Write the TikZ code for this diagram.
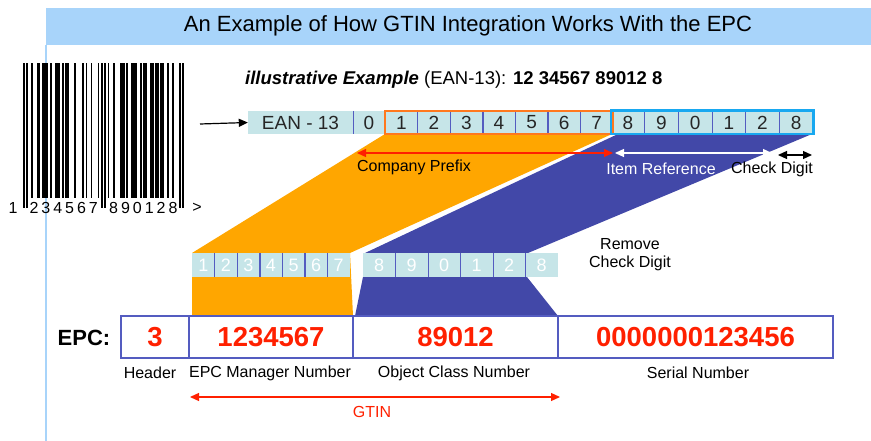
\documentclass[tikz,border=0pt]{standalone}
\usepackage{fontspec}
\setmainfont{Liberation Sans}
\usetikzlibrary{arrows.meta, positioning}

\definecolor{bandblue}{RGB}{168,212,250}
\definecolor{cellteal}{RGB}{198,229,232}
\definecolor{divblue}{RGB}{84,92,192}
\definecolor{prefixorange}{RGB}{255,166,0}
\definecolor{lineorange}{RGB}{255,120,30}
\definecolor{linecyan}{RGB}{24,168,240}
\definecolor{refblue}{RGB}{66,72,168}
\definecolor{epcred}{RGB}{255,32,0}

\tikzset{
  cell/.style={fill=cellteal, inner sep=0pt, minimum height=23pt,
    font=\fontsize{19}{21}\selectfont, text=black!85},
  midcell/.style={cell, minimum height=24pt, text=white,
    font=\fontsize{18}{20}\selectfont},
  divider/.style={draw=divblue, line width=1.2pt},
  epcbox/.style={draw=divblue, fill=white, line width=1.2pt, inner sep=0pt,
    minimum height=42pt, text=epcred, font=\bfseries\fontsize{27.5}{30}\selectfont},
  lbl/.style={font=\fontsize{16}{18}\selectfont, inner sep=0pt},
  bcdigit/.style={font=\fontsize{16}{18}\selectfont, inner sep=0pt},
  dimarrow/.style={{Triangle[length=9pt,width=8pt]}-{Triangle[length=9pt,width=8pt]},
    line width=1.2pt},
}

\begin{document}
\begin{tikzpicture}[x=1pt, y=-1pt]
  \useasboundingbox (0,0) rectangle (871,441);

  % Title band
  \fill[bandblue] (46,8) rectangle (871,45);
  \draw[bandblue, line width=1.5pt] (46,45) -- (46,441);
  \node[font=\fontsize{22}{24}\selectfont] (title) at (468,26)
    {An Example of How GTIN Integration Works With the EPC};

  % Barcode (EAN-13, 95 modules)
  \foreach \b [count=\i] in {1,0,1,
      0,0,1,0,0,1,1, 0,1,1,1,1,0,1, 0,0,1,1,1,0,1,
      0,1,1,0,0,0,1, 0,0,0,0,1,0,1, 0,0,1,0,0,0,1,
      0,1,0,1,0,
      1,0,0,1,0,0,0, 1,1,1,0,1,0,0, 1,1,1,0,0,1,0,
      1,1,0,0,1,1,0, 1,1,0,1,1,0,0, 1,0,0,1,0,0,0,
      1,0,1}
  {\ifnum\b=1
     \pgfmathsetmacro{\barbot}{((\i<4) || ((\i>45) && (\i<51)) || (\i>92)) ? 208 : 198}
     \fill ({23+(\i-1)*1.695},63) rectangle ({23+\i*1.695},\barbot);
   \fi}
  \node[bcdigit] (bcfirst) at (13,208) {1};
  \foreach \d [count=\k from 0] in {2,3,4,5,6,7}
    \node[bcdigit] (bcl\k) at ({23+(6.5+7*\k)*1.695},208) {\d};
  \foreach \d [count=\k from 0] in {8,9,0,1,2,8}
    \node[bcdigit] (bcr\k) at ({23+(53.5+7*\k)*1.695},208) {\d};
  \node[bcdigit] (bcmark) at (197,208) {>};

  % Example line
  \node[anchor=west, inner sep=0pt, font=\fontsize{18.5}{20}\selectfont] (example) at (245,80)
    {\textbf{\textit{illustrative Example}} (EAN-13): \textbf{12 34567 89012 8}};

  % Bands from EAN-13 to EPC
  \fill[prefixorange] (385,134) -- (612,134) -- (350,253) -- (353,316)
    -- (192,316) -- (192,253) -- cycle;
  \fill[refblue] (618,134) -- (812,134) -- (528,253) -- (527,277) -- (558,316)
    -- (355,316) -- (363,277) -- (365,253) -- cycle;

  % EAN-13 row
  \node[cell, minimum width=105pt] (ean) at (300.5,122.5) {EAN - 13};
  \node[cell, minimum width=32pt] (zero) at (369,122.5) {0};
  \foreach \d [count=\i] in {1,...,7}
    \node[cell, minimum width=32.57pt] (p\i) at ({385+32.57*(\i-0.5)},122.5) {\d};
  \foreach \d [count=\i] in {8,9,0,1,2,8}
    \node[cell, minimum width=33.67pt] (r\i) at ({611+33.67*(\i-0.5)},122.5) {\d};
  \draw[divider] (ean.north east) -- (ean.south east);
  \foreach \i in {1,...,6}
    \draw[divider] (p\i.north east) -- (p\i.south east);
  \foreach \i in {1,...,5}
    \draw[divider] (r\i.north east) -- (r\i.south east);
  \draw[lineorange, line width=2.2pt] (p1.north west) rectangle (p7.south east);
  \draw[linecyan, line width=2.6pt] (r1.north west) rectangle (r6.south east);

  % Arrow from the barcode
  \coordinate (bcout) at (200,124);
  \draw[-{Triangle[length=9pt,width=8pt]}, line width=1.2pt] (bcout) -- (ean.west);

  % Spans of the EAN-13
  \coordinate (cpL) at (357,153);
  \coordinate (cpR) at (613,153);
  \coordinate (irL) at (615,153);
  \coordinate (irR) at (772,153);
  \coordinate (cdL) at (778,155);
  \coordinate (cdR) at (812,155);
  \draw[dimarrow, epcred] (cpL) -- (cpR);
  \draw[dimarrow, white] (irL) -- (irR);
  \draw[dimarrow, black] (cdL) -- (cdR);
  \node[lbl] (cplbl) at (414,167) {Company Prefix};
  \node[lbl, text=white] (irlbl) at (661,169) {Item Reference};
  \node[lbl] (cdlbl) at (772,169) {Check Digit};

  % Middle row
  \foreach \d [count=\i] in {1,...,7}
    \node[midcell, minimum width=22.57pt] (m\i) at ({192+22.57*(\i-0.5)},265) {\d};
  \foreach \d [count=\i] in {8,9,0,1,2,8}
    \node[midcell, minimum width=32.5pt] (n\i) at ({363+32.5*(\i-0.5)},265) {\d};
  \foreach \i in {1,...,6}
    \draw[divider] (m\i.north east) -- (m\i.south east);
  \foreach \i in {1,...,5}
    \draw[divider] (n\i.north east) -- (n\i.south east);
  \node[lbl, align=center] (remove) at (630,255) {Remove\\Check Digit};

  % EPC
  \node[font=\bfseries\fontsize{22}{24}\selectfont, inner sep=0pt] (epc) at (84,338) {EPC:};
  \node[epcbox, minimum width=68pt] (hdr) at (155,337) {3};
  \node[epcbox, minimum width=164pt] (mgr) at (271,337) {1234567};
  \node[epcbox, minimum width=205pt] (obj) at (455.5,337) {89012};
  \node[epcbox, minimum width=275pt] (ser) at (695.5,337) {0000000123456};
  \node[lbl] (hdrlbl) at (150,373) {Header};
  \node[lbl] (mgrlbl) at (270,373) {EPC Manager Number};
  \node[lbl] (objlbl) at (454,373) {Object Class Number};
  \node[lbl] (serlbl) at (698,373) {Serial Number};

  % GTIN span
  \coordinate (gtinL) at (190,397);
  \coordinate (gtinR) at (560,397);
  \draw[dimarrow, epcred] (gtinL) -- (gtinR);
  \node[lbl, text=epcred] (gtin) at (372,412) {GTIN};
\end{tikzpicture}
\end{document}
